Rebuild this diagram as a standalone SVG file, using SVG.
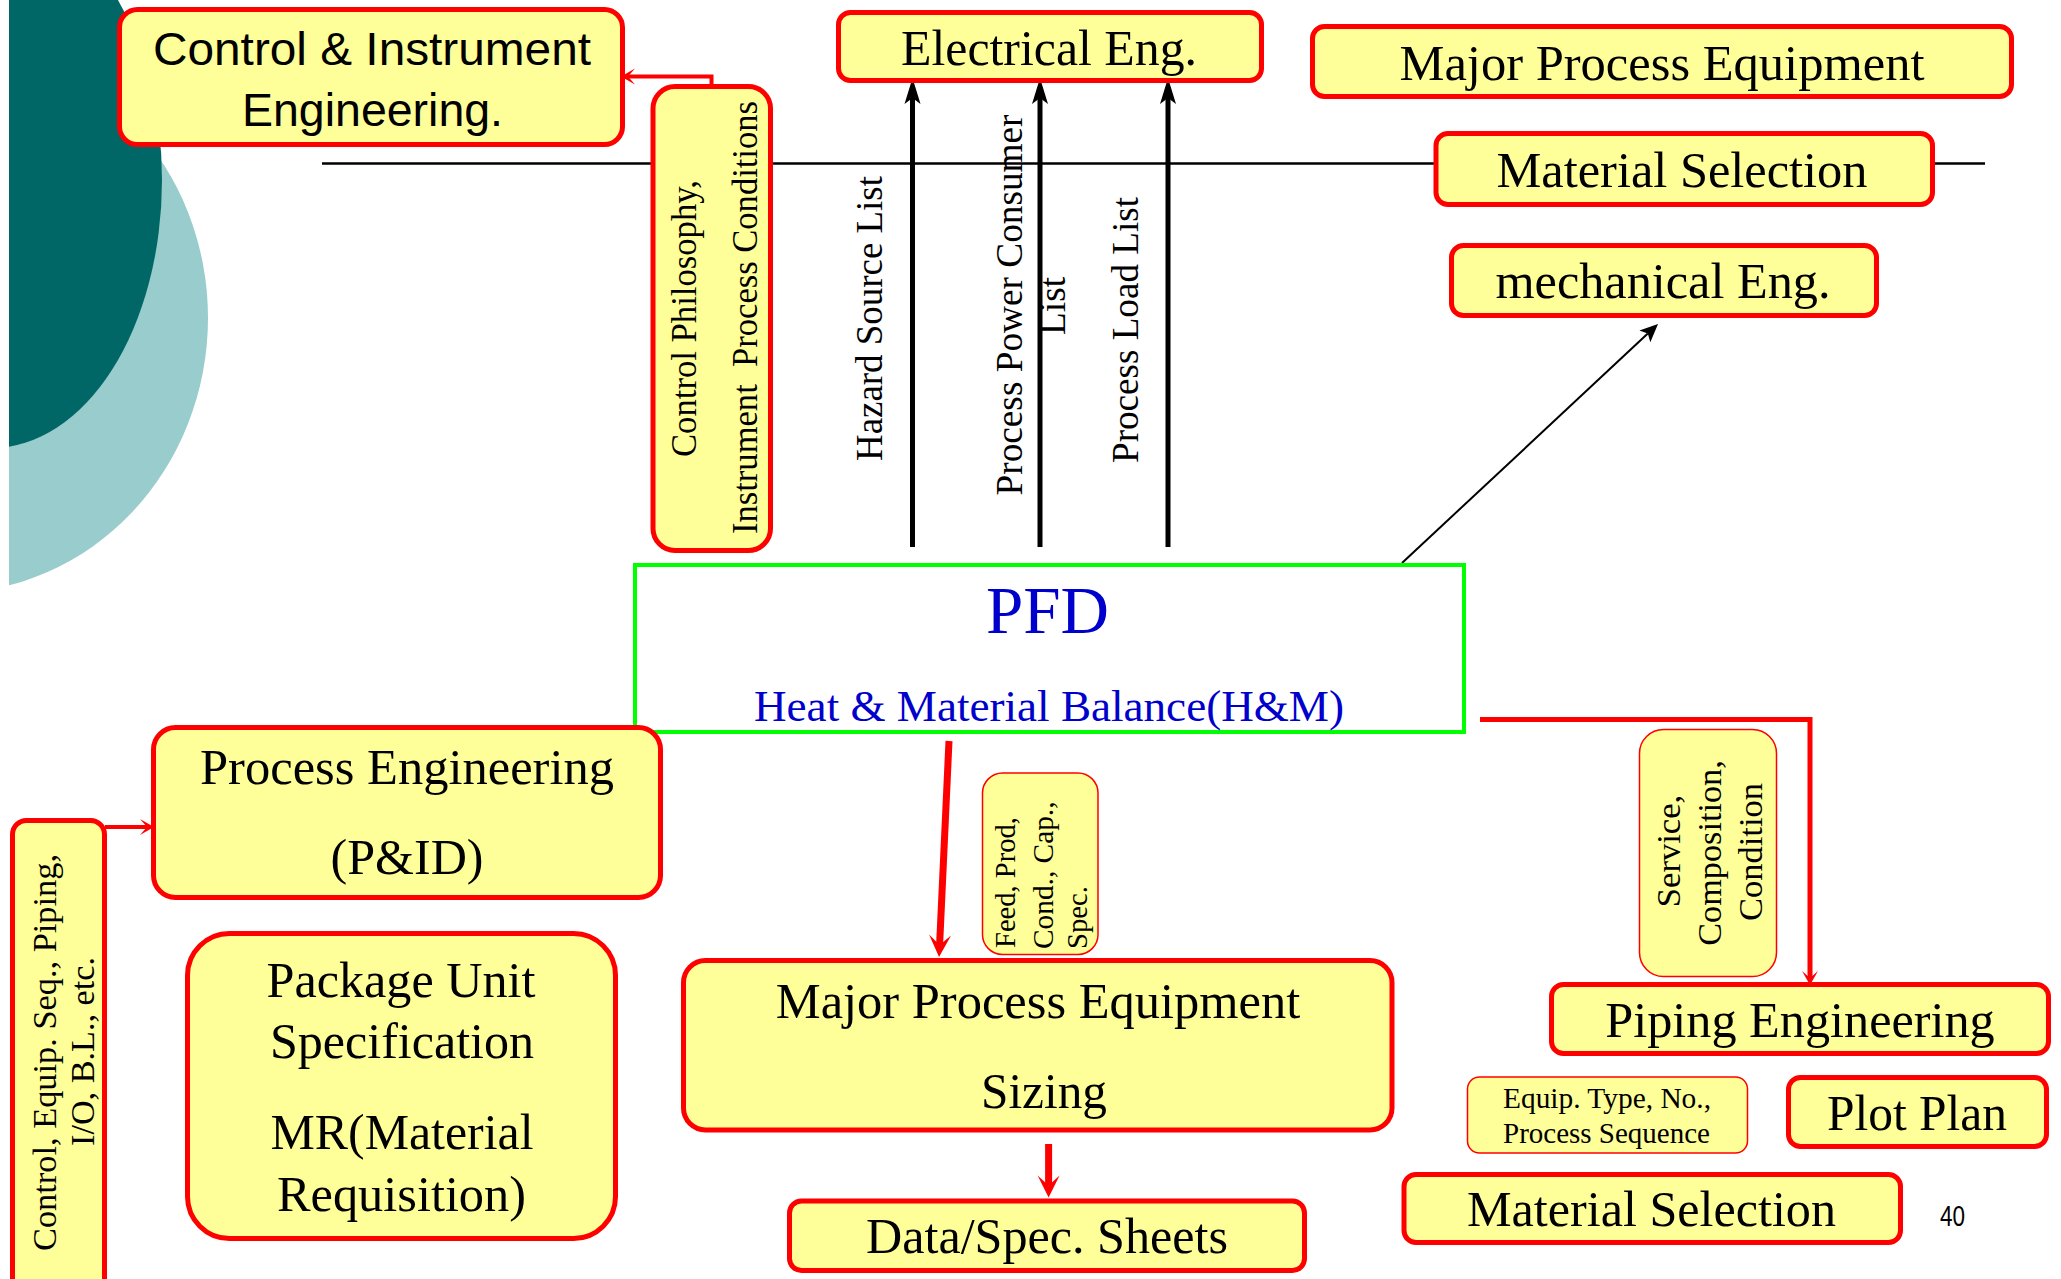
<svg xmlns="http://www.w3.org/2000/svg" width="2061" height="1279" viewBox="0 0 2061 1279">
  <defs>
    <style>
      .box{fill:#FFFF99;stroke:#FF0000;stroke-width:5}
      .note{fill:#FFFF99;stroke:#FF0000;stroke-width:1.5}
      .t{font-family:"Liberation Serif","Times New Roman",serif;fill:#000000}
      .s{font-family:"Liberation Sans",Arial,sans-serif;fill:#000000}
      .c{text-anchor:middle}
      .h{font-size:50px}
      .v37{font-size:37px}
      .v35{font-size:35px}
      .v34{font-size:34px}
      .v29{font-size:29px}
      .blue{fill:#0000CC}
      .lineBlk{stroke:#000000;stroke-width:5;fill:none}
      .lineRed{stroke:#FF0000;fill:none}
    </style>
    <clipPath id="leftEdge">
      <rect x="9" y="0" width="400" height="700"/>
    </clipPath>
    <marker id="ahBlk" markerUnits="userSpaceOnUse" markerWidth="30" markerHeight="20" viewBox="-28 -10 30 20" refX="-20" refY="0" orient="auto" overflow="visible">
      <path d="M0,0 L-26,-8 L-20,0 L-26,8 Z" fill="#000000"/>
    </marker>
    <marker id="ahRedL" markerUnits="userSpaceOnUse" markerWidth="26" markerHeight="26" viewBox="-24 -12 26 24" refX="-12" refY="0" orient="auto" overflow="visible">
      <path d="M0,0 L-22,-11 L-12,0 L-22,11 Z" fill="#FF0000"/>
    </marker>
    <marker id="ahRedS" markerUnits="userSpaceOnUse" markerWidth="18" markerHeight="18" viewBox="-16 -9 18 18" refX="-7" refY="0" orient="auto" overflow="visible">
      <path d="M0,0 L-14,-8 L-7,0 L-14,8 Z" fill="#FF0000"/>
    </marker>
    <marker id="ahTri" markerUnits="userSpaceOnUse" markerWidth="20" markerHeight="18" viewBox="-19 -9 20 18" refX="-14" refY="0" orient="auto" overflow="visible">
      <path d="M0,0 L-18,-8 L-14,0 L-18,8 Z" fill="#000000"/>
    </marker>
  </defs>

  <rect width="2061" height="1279" fill="#FFFFFF"/>

  <!-- decorative background ovals -->
  <g id="background" clip-path="url(#leftEdge)">
    <ellipse cx="-52" cy="318" rx="260" ry="275" fill="#99CCCC"/>
    <ellipse cx="-8" cy="180" rx="170" ry="268" fill="#006666"/>
  </g>

  <!-- divider line -->
  <line id="divider" x1="322" y1="163.5" x2="1985" y2="163.5" stroke="#000000" stroke-width="2.5"/>

  <g id="connectors">
    <!-- PFD outputs to Electrical Eng. -->
    <line class="lineBlk" x1="912.5" y1="547" x2="912.5" y2="98" marker-end="url(#ahBlk)"/>
    <line class="lineBlk" x1="1040" y1="547" x2="1040" y2="98" marker-end="url(#ahBlk)"/>
    <line class="lineBlk" x1="1168" y1="547" x2="1168" y2="98" marker-end="url(#ahBlk)"/>
    <!-- PFD to mechanical Eng. -->
    <line x1="1402" y1="563" x2="1647.8" y2="333.6" stroke="#000000" stroke-width="2" marker-end="url(#ahTri)"/>
    <!-- C&I conditions to C&I Engineering -->
    <path class="lineRed" stroke-width="4" d="M711.5,86 V76.5 H628" marker-end="url(#ahRedS)"/>
    <!-- P&ID inputs -->
    <path class="lineRed" stroke-width="4" d="M105,827 H147" marker-end="url(#ahRedS)"/>
    <!-- PFD to equipment sizing -->
    <line class="lineRed" stroke-width="7" x1="949" y1="741" x2="939.6" y2="945" marker-end="url(#ahRedL)"/>
    <!-- sizing to data sheets -->
    <line class="lineRed" stroke-width="7" x1="1048.6" y1="1144" x2="1048.6" y2="1185.6" marker-end="url(#ahRedL)"/>
    <!-- PFD to piping engineering -->
    <path class="lineRed" stroke-width="5" d="M1480,719.5 H1810 V978" marker-end="url(#ahRedS)"/>
  </g>

  <g id="ci-engineering">
    <rect class="box" x="119.5" y="9.5" width="503" height="135" rx="18"/>
    <text class="s c" font-size="47" x="372" y="65" textLength="438" lengthAdjust="spacingAndGlyphs">Control &amp; Instrument</text>
    <text class="s c" font-size="47" x="372.5" y="126" textLength="261" lengthAdjust="spacingAndGlyphs">Engineering.</text>
  </g>

  <g id="ci-conditions">
    <rect class="box" x="653" y="86.5" width="117.5" height="464" rx="22"/>
    <text class="t c v35" transform="translate(696,318.5) rotate(-90)" textLength="277" lengthAdjust="spacingAndGlyphs">Control Philosophy,</text>
    <text class="t c v35" xml:space="preserve" transform="translate(757,317.5) rotate(-90)" textLength="433" lengthAdjust="spacingAndGlyphs">Instrument  Process Conditions</text>
  </g>

  <g id="electrical-eng">
    <rect class="box" x="838.5" y="12.5" width="423" height="68" rx="12"/>
    <text class="t c h" x="1049" y="65" textLength="296" lengthAdjust="spacingAndGlyphs">Electrical Eng.</text>
  </g>

  <g id="electrical-labels">
    <text class="t c v37" transform="translate(882,318.5) rotate(-90)" textLength="285" lengthAdjust="spacingAndGlyphs">Hazard Source List</text>
    <text class="t c v37" transform="translate(1022,305) rotate(-90)" textLength="381" lengthAdjust="spacingAndGlyphs">Process Power Consumer</text>
    <text class="t c v37" transform="translate(1065,306) rotate(-90)" textLength="58" lengthAdjust="spacingAndGlyphs">List</text>
    <text class="t c v37" transform="translate(1138,330) rotate(-90)" textLength="266" lengthAdjust="spacingAndGlyphs">Process Load List</text>
  </g>

  <g id="major-equipment-top">
    <rect class="box" x="1312.5" y="26.5" width="699" height="70" rx="12"/>
    <text class="t c h" x="1662" y="80" textLength="525" lengthAdjust="spacingAndGlyphs">Major Process Equipment</text>
  </g>

  <g id="material-selection-top">
    <rect class="box" x="1436" y="133.5" width="496.5" height="71" rx="12"/>
    <text class="t c h" x="1682" y="187" textLength="371" lengthAdjust="spacingAndGlyphs">Material Selection</text>
  </g>

  <g id="mechanical-eng">
    <rect class="box" x="1451.5" y="245.5" width="425" height="70" rx="12"/>
    <text class="t c h" x="1663" y="298" textLength="335" lengthAdjust="spacingAndGlyphs">mechanical Eng.</text>
  </g>

  <g id="pfd">
    <rect x="635" y="565" width="829" height="167" fill="#FFFFFF" stroke="#00FF00" stroke-width="4"/>
    <text class="t c blue" font-size="67" x="1047.5" y="633" textLength="123" lengthAdjust="spacingAndGlyphs">PFD</text>
    <text class="t c blue" font-size="44" x="1049" y="721" textLength="590" lengthAdjust="spacingAndGlyphs">Heat &amp; Material Balance(H&amp;M)</text>
  </g>

  <g id="process-engineering">
    <rect class="box" x="153.5" y="727.5" width="507" height="170" rx="22"/>
    <text class="t c h" x="407" y="784" textLength="414" lengthAdjust="spacingAndGlyphs">Process Engineering</text>
    <text class="t c h" x="407" y="874" textLength="153" lengthAdjust="spacingAndGlyphs">(P&amp;ID)</text>
  </g>

  <g id="pid-inputs">
    <rect class="box" x="12.5" y="820.5" width="92" height="480" rx="14"/>
    <text class="t c v34" transform="translate(56,1052.5) rotate(-90)" textLength="397" lengthAdjust="spacingAndGlyphs">Control, Equip. Seq., Piping,</text>
    <text class="t c v34" transform="translate(94,1051.5) rotate(-90)" textLength="189" lengthAdjust="spacingAndGlyphs">I/O, B.L., etc.</text>
  </g>

  <g id="package-unit">
    <rect class="box" x="187.5" y="933.5" width="428" height="305" rx="42"/>
    <text class="t c h" x="401" y="997" textLength="269" lengthAdjust="spacingAndGlyphs">Package Unit</text>
    <text class="t c h" x="402" y="1058" textLength="264" lengthAdjust="spacingAndGlyphs">Specification</text>
    <text class="t c h" x="402" y="1149" textLength="263" lengthAdjust="spacingAndGlyphs">MR(Material</text>
    <text class="t c h" x="401.5" y="1211" textLength="249" lengthAdjust="spacingAndGlyphs">Requisition)</text>
  </g>

  <g id="equipment-sizing">
    <rect class="box" x="683.5" y="960.5" width="708.5" height="169.5" rx="22"/>
    <text class="t c h" x="1038" y="1018" textLength="524.5" lengthAdjust="spacingAndGlyphs">Major Process Equipment</text>
    <text class="t c h" x="1044" y="1108" textLength="126" lengthAdjust="spacingAndGlyphs">Sizing</text>
  </g>

  <g id="sizing-inputs">
    <rect class="note" x="982.5" y="773" width="115.5" height="181.5" rx="20"/>
    <text class="t v29" transform="translate(1015,948) rotate(-90)" textLength="131" lengthAdjust="spacingAndGlyphs">Feed, Prod,</text>
    <text class="t v29" transform="translate(1052.5,949) rotate(-90)" textLength="147.5" lengthAdjust="spacingAndGlyphs">Cond., Cap.,</text>
    <text class="t v29" transform="translate(1087,949) rotate(-90)" textLength="63" lengthAdjust="spacingAndGlyphs">Spec.</text>
  </g>

  <g id="data-sheets">
    <rect class="box" x="789.5" y="1201" width="515" height="69.5" rx="12"/>
    <text class="t c h" x="1047" y="1253" textLength="362" lengthAdjust="spacingAndGlyphs">Data/Spec. Sheets</text>
  </g>

  <g id="piping-inputs">
    <rect class="note" x="1639.5" y="729.5" width="137" height="247" rx="24"/>
    <text class="t c" font-size="34.5" transform="translate(1680,851) rotate(-90)" textLength="112.4" lengthAdjust="spacingAndGlyphs">Service,</text>
    <text class="t c" font-size="34.5" transform="translate(1721,853) rotate(-90)" textLength="185.5" lengthAdjust="spacingAndGlyphs">Composition,</text>
    <text class="t c" font-size="34.5" transform="translate(1762,852) rotate(-90)" textLength="138" lengthAdjust="spacingAndGlyphs">Condition</text>
  </g>

  <g id="piping-engineering">
    <rect class="box" x="1551.5" y="984.5" width="497" height="69" rx="12"/>
    <text class="t c h" x="1800" y="1037" textLength="389.5" lengthAdjust="spacingAndGlyphs">Piping Engineering</text>
  </g>

  <g id="plot-inputs">
    <rect class="note" x="1467.5" y="1077" width="280" height="76" rx="12"/>
    <text class="t c v29" x="1607" y="1108" textLength="208" lengthAdjust="spacingAndGlyphs">Equip. Type, No.,</text>
    <text class="t c v29" x="1606.5" y="1143" textLength="207" lengthAdjust="spacingAndGlyphs">Process Sequence</text>
  </g>

  <g id="plot-plan">
    <rect class="box" x="1788.5" y="1077.5" width="258" height="69" rx="12"/>
    <text class="t c h" x="1917" y="1130" textLength="180" lengthAdjust="spacingAndGlyphs">Plot Plan</text>
  </g>

  <g id="material-selection-bottom">
    <rect class="box" x="1404" y="1174.5" width="496.5" height="68" rx="12"/>
    <text class="t c h" x="1651.5" y="1226" textLength="369" lengthAdjust="spacingAndGlyphs">Material Selection</text>
  </g>

  <text id="page-number" class="s c" font-size="29" x="1952.5" y="1226" textLength="25" lengthAdjust="spacingAndGlyphs">40</text>
</svg>
